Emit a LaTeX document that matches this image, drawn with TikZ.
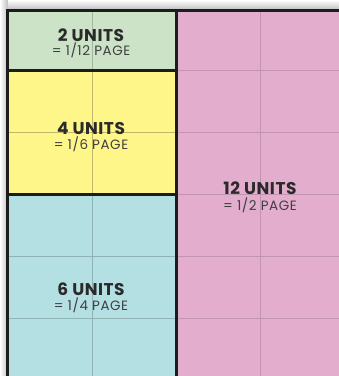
\documentclass[tikz,border=0pt]{standalone}
\usepackage{fontspec}
\setmainfont{Poppins}
\definecolor{cgreen}{HTML}{CCE3C8}
\definecolor{cyellow}{HTML}{FFF68A}
\definecolor{ccyan}{HTML}{B4E0E4}
\definecolor{cpink}{HTML}{E3AECE}
\definecolor{cborder}{HTML}{1C1C1C}
\definecolor{ctext}{HTML}{2A2A2A}
\definecolor{cshadow}{HTML}{BDBDBD}
\tikzset{
  gridline/.style={line width=1pt},
  frame/.style={draw=cborder,line width=3pt},
  big/.style={font=\fontsize{17}{18}\selectfont\bfseries\addfontfeature{LetterSpace=3},text=ctext,inner sep=0pt,anchor=base},
  small/.style={font=\fontsize{13.5}{14}\selectfont\addfontfeature{LetterSpace=4},text=ctext!90,inner sep=0pt,anchor=base},
}
\begin{document}
\begin{tikzpicture}[x=1pt,y=-1pt]
\useasboundingbox (0,0) rectangle (339,376);
\fill[white] (0,0) rectangle (339,376);
% shadows
\shade[top color=white,bottom color=cshadow] (0,0) rectangle (339,10);
\shade[left color=white,right color=cshadow] (0,0) rectangle (8,376);
% fills
\fill[cpink] (176,10) rectangle (345,380);
\fill[cgreen] (8,10) rectangle (176,70);
\fill[cyellow] (8,70) rectangle (176,194);
\fill[ccyan] (8,194) rectangle (176,380);
% grid lines
\draw[gridline,draw=cpink!85!black] (260,10) -- (260,380);
\foreach \yy in {70,132,194,256,318} \draw[gridline,draw=cpink!85!black] (176,\yy) -- (345,\yy);
\draw[gridline,draw=cgreen!80!black] (92,10) -- (92,70);
\draw[gridline,draw=cyellow!75!black] (92,70) -- (92,194);
\draw[gridline,draw=cyellow!75!black] (8,132) -- (176,132);
\draw[gridline,draw=ccyan!80!black] (92,194) -- (92,380);
\draw[gridline,draw=ccyan!80!black] (8,256) -- (176,256);
\draw[gridline,draw=ccyan!80!black] (8,318) -- (176,318);
% frames
\draw[frame] (8,10) rectangle (176,70);
\draw[frame] (8,70) rectangle (176,194);
\draw[frame] (8,380) -- (8,194) -- (176,194) -- (176,380);
\draw[frame] (176,10) -- (345,10);
% labels
\node[big] (t2) at (91,41) {2 UNITS};
\node[small] (s2) at (91,55) {= 1/12 PAGE};
\node[big] (t4) at (91,134) {4 UNITS};
\node[small] (s4) at (91,149) {= 1/6 PAGE};
\node[big] (t6) at (91,295) {6 UNITS};
\node[small] (s6) at (91,310) {= 1/4 PAGE};
\node[big] (t12) at (260,194) {12 UNITS};
\node[small] (s12) at (260,210) {= 1/2 PAGE};
\end{tikzpicture}
\end{document}
